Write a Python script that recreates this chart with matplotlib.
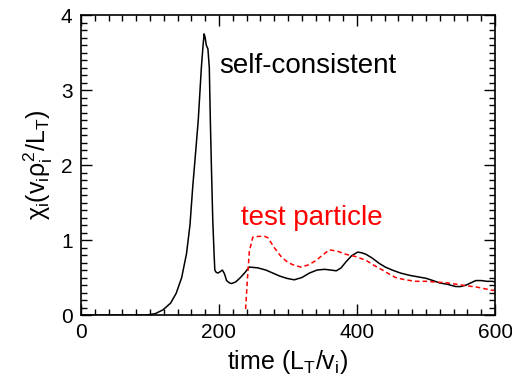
import numpy as np
import matplotlib.pyplot as plt
from matplotlib.ticker import MultipleLocator

plt.rcParams['font.family'] = ['Liberation Sans', 'DejaVu Sans']
plt.rcParams['mathtext.fontset'] = 'custom'
plt.rcParams['mathtext.rm'] = 'Liberation Sans'
plt.rcParams['mathtext.it'] = 'Liberation Sans'
plt.rcParams['mathtext.bf'] = 'Liberation Sans:bold'

# self-consistent run
t_sc = [0, 60, 95, 108, 119, 130, 138, 146, 153, 158, 162, 166, 170, 174.5, 177, 178.5,
        180, 181.6, 184, 186, 187.5, 189, 191, 193, 194, 196, 198.5, 202, 205, 208, 211,
        215, 218, 224, 230, 237, 244, 256, 268, 278, 288, 298, 309, 320, 331, 342, 353,
        362, 370, 377, 384, 392, 401, 407, 413, 422, 432, 441, 451, 463, 476, 488, 500,
        510, 519, 531, 543, 550, 558, 565, 572, 580, 588, 596, 600]
chi_sc = [0.0, 0.0, 0.0, 0.02, 0.07, 0.16, 0.29, 0.5, 0.82, 1.2, 1.71, 2.15, 2.6, 3.3,
          3.6, 3.75, 3.7, 3.6, 3.55, 3.3, 2.6, 2.0, 1.27, 0.8, 0.6, 0.57, 0.56, 0.58, 0.6,
          0.55, 0.46, 0.43, 0.42, 0.44, 0.49, 0.56, 0.64, 0.63, 0.6, 0.56, 0.52, 0.49, 0.47,
          0.5, 0.56, 0.6, 0.61, 0.6, 0.59, 0.63, 0.71, 0.79, 0.84, 0.83, 0.81, 0.76, 0.69,
          0.64, 0.6, 0.56, 0.53, 0.51, 0.49, 0.46, 0.43, 0.41, 0.38, 0.38, 0.4, 0.43, 0.46,
          0.46, 0.45, 0.45, 0.44]

# test particle run
t_tp = [238.6, 241, 244, 249, 259, 266, 271, 280, 290, 300, 310, 319, 330, 341, 350,
        360, 372, 384, 398, 413, 425, 437, 446, 456, 470, 485, 500, 514, 530, 552, 575,
        596, 600]
chi_tp = [0.08, 0.45, 0.85, 1.04, 1.05, 1.05, 1.03, 0.9, 0.78, 0.7, 0.66, 0.64, 0.67,
          0.73, 0.8, 0.87, 0.85, 0.81, 0.78, 0.73, 0.66, 0.6, 0.55, 0.5, 0.47, 0.45, 0.45,
          0.44, 0.43, 0.4, 0.37, 0.33, 0.33]

fig = plt.figure(figsize=(5.12, 3.88), dpi=100)
ax = fig.add_axes([0.158, 0.188, 0.809, 0.773])
ax.plot(t_sc, chi_sc, color='black', lw=1.1)
ax.plot(t_tp, chi_tp, color='red', lw=1.1, ls=(0, (3, 2)))

ax.set_xlim(0, 600)
ax.set_ylim(0, 4)
ax.xaxis.set_major_locator(MultipleLocator(200))
ax.xaxis.set_minor_locator(MultipleLocator(20))
ax.yaxis.set_major_locator(MultipleLocator(1))
ax.yaxis.set_minor_locator(MultipleLocator(0.1))
ax.tick_params(which='both', direction='in', top=True, right=True, labelsize=15, width=1)
ax.tick_params(which='major', length=8, pad=6)
ax.tick_params(which='minor', length=4)
for s in ax.spines.values():
    s.set_linewidth(1.2)

ax.set_xlabel(r'time (L$_{\rm T}$/v$_{\rm i}$)', fontsize=18, labelpad=4)
ax.set_ylabel(r'$\chi_{\rm i}$(v$_{\rm i}\rho_{\rm i}^{2}$/L$_{\rm T}$)', fontsize=18, labelpad=4)

ax.text(201, 3.23, 'self-consistent', fontsize=20, color='black')
ax.text(232, 1.2, 'test particle', fontsize=20, color='red')

fig.savefig('out.png')
